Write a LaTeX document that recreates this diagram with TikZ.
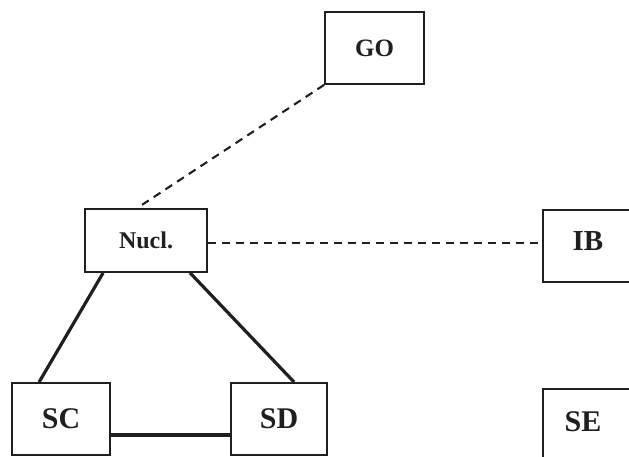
\documentclass[tikz,border=0pt]{standalone}
\usepackage{fontspec}
\setmainfont{Liberation Serif}
\usetikzlibrary{calc}
\definecolor{ink}{gray}{0.12}
\begin{document}
\begin{tikzpicture}[x=1pt,y=-1pt,
  box/.style={draw=ink, line width=1.8pt, inner sep=0pt, text=ink},
  tag/.style={inner sep=0pt, text=ink, font=\bfseries\fontsize{#1}{#1}\selectfont},
  link/.style={draw=ink, line width=3.2pt},
  dashlink/.style={draw=ink, line width=2.1pt, dash pattern=on 8pt off 6pt}]
\useasboundingbox (0,0) rectangle (629,457);
\begin{scope}
\clip (0,0) rectangle (629,457);
% boxes
\node[box, minimum width=99pt, minimum height=72pt, tag=25] (go) at (374.5,48) {GO};
\node[box, minimum width=122pt, minimum height=63pt, tag=24] (nucl) at (146,240.5) {Nucl.};
\node[box, minimum width=98pt, minimum height=72pt, tag=30] (sc) at (61,419) {SC};
\node[box, minimum width=96pt, minimum height=72pt, tag=30] (sd) at (279,419) {SD};
% the two boxes on the right run past the edge of the drawing
\node[box, minimum width=120pt, minimum height=72pt] (ib) at (603,246) {};
\node[tag=29] (ibtext) at (588,241) {IB};
\node[box, minimum width=120pt, minimum height=90pt] (se) at (603,434) {};
\node[tag=30] (setext) at (583,422) {SE};
% connectors
\draw[dashlink] (go.south west) -- ($(nucl.north west)+(53,0)$);
\draw[dashlink] (nucl.east |- 0,243) -- (ib.west |- 0,243);
\draw[link] ($(nucl.south west)+(19,0)$) -- ($(sc.north west)+(28,0)$);
\draw[link] ($(nucl.south west)+(106,0)$) -- ($(sd.north west)+(64,0)$);
\draw[link] ($(sc.east)+(0,16)$) -- ($(sd.west)+(0,16)$);
\end{scope}
\end{tikzpicture}
\end{document}
